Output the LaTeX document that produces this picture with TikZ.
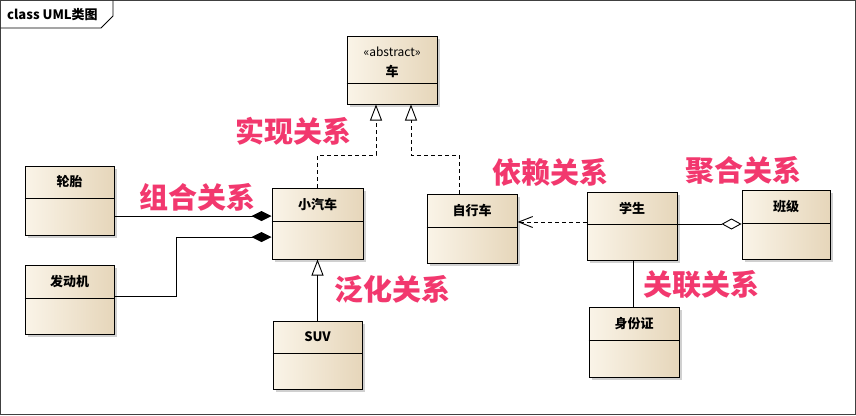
\documentclass[tikz,border=0pt]{standalone}
\usepackage{fontspec}
\setmainfont{Noto Sans CJK SC}
\usetikzlibrary{arrows.meta,shadows}

\definecolor{boxL}{HTML}{FAF4E8}
\definecolor{boxR}{HTML}{E6D6BA}
\definecolor{relpink}{HTML}{F2386E}

\tikzset{
  classbox/.style={draw=black, line width=1pt, left color=boxL, right color=boxR,
    drop shadow={shadow xshift=3pt, shadow yshift=-3pt, opacity=0.3, fill=black!60},
    inner sep=0pt},
  classname/.style={font=\bfseries\fontsize{13}{15}\selectfont, inner sep=0pt},
  stereo/.style={font=\fontsize{12}{14}\selectfont, inner sep=0pt},
  divider/.style={line width=1pt},
  link/.style={line width=0.9pt},
  dashlink/.style={link, dash pattern=on 4pt off 3pt},
  realize/.style={dashlink, -{Triangle[open,length=16pt,width=12pt]}},
  generalize/.style={link, -{Triangle[open,length=16pt,width=12pt]}},
  compose/.style={link, -{Diamond[length=20pt,width=10pt]}},
  aggregate/.style={link, -{Diamond[open,fill=white,length=20pt,width=11pt]}},
  depend/.style={dashlink, -{Straight Barb[length=14pt,width=11pt]}},
  relname/.style={text=relpink, font=\bfseries\fontsize{29}{32}\selectfont, inner sep=0pt},
}

% class box: name, left, top, right, bottom, divider y, title
\newcommand\umlclass[7]{%
  \node[classbox, minimum width={(#4-#2)*1pt}, minimum height={(#5-#3)*1pt}]
    (#1) at ({(#2+#4)/2},{(#3+#5)/2}) {};
  \draw[divider] (#1.west |- 0,#6) -- (#1.east |- 0,#6);
  \node[classname] (#1-title) at ({(#2+#4)/2},{(#3+#6)/2}) {#7};
}

\begin{document}
\begin{tikzpicture}[x=1pt,y=-1pt]
  \useasboundingbox (0,0) rectangle (856,415);
  \fill[white] (0,0) rectangle (856,415);

  % diagram frame and its name tab
  \draw[line width=1pt, black!75] (0.5,0.5) rectangle (855.5,414.5);
  \draw[line width=0.9pt] (0.5,28) -- (101,28) -- (113,16) -- (113,0.5);
  \node[font=\bfseries\fontsize{13}{15}\selectfont, inner sep=0pt, anchor=west]
    (frametitle) at (7,14.5) {class UML类图};

  % abstract base class
  \node[classbox, minimum width=90pt, minimum height=68pt] (vehicle) at (392,70) {};
  \draw[divider] (vehicle.west |- 0,83) -- (vehicle.east |- 0,83);
  \node[stereo] (vehicle-stereo) at (392,52) {«abstract»};
  \node[classname] (vehicle-title) at (392,71) {车};

  % classes
  \umlclass{tire}{25}{166}{114}{235}{198}{轮胎}
  \umlclass{engine}{25}{265}{114}{334}{298}{发动机}
  \umlclass{car}{272}{188}{363}{259}{221}{小汽车}
  \umlclass{suv}{273}{321}{362}{389}{353}{SUV}
  \umlclass{bike}{427}{194}{517}{263}{227}{自行车}
  \umlclass{student}{587}{192}{677}{260}{224}{学生}
  \umlclass{klass}{742}{190}{830}{259}{223}{班级}
  \umlclass{idcard}{589}{307}{679}{377}{340}{身份证}

  % realization
  \coordinate (joinY) at (0,155);
  \draw[realize] (car.north) -- (car.north |- joinY) -| ([xshift=-16pt]vehicle.south);
  \draw[realize] ([xshift=-13pt]bike.north) -- ([xshift=-13pt]bike.north |- joinY)
    -| ([xshift=19pt]vehicle.south);

  % generalization
  \draw[generalize] (suv.north) -- (car.south);

  % composition
  \coordinate (bend) at (176,237);
  \draw[compose] (tire.east |- 0,216) -- (car.west |- 0,216);
  \draw[compose] (engine.east |- 0,296) -| (bend) -- (car.west |- bend);

  % dependency
  \draw[depend] (student.west |- 0,222) -- (bike.east |- 0,222);

  % aggregation
  \draw[aggregate] (student.east |- 0,224) -- (klass.west |- 0,224);

  % association
  \draw[link] ([xshift=1pt]student.south) -- ([xshift=1pt]student.south |- idcard.north);

  % relation captions
  \node[relname] (capRealize)   at (293,131) {实现关系};
  \node[relname] (capCompose)   at (197,197) {组合关系};
  \node[relname] (capGeneral)   at (392,289) {泛化关系};
  \node[relname] (capDepend)    at (550,172) {依赖关系};
  \node[relname] (capAggregate) at (743,170) {聚合关系};
  \node[relname] (capAssoc)     at (701,285) {关联关系};
\end{tikzpicture}
\end{document}
